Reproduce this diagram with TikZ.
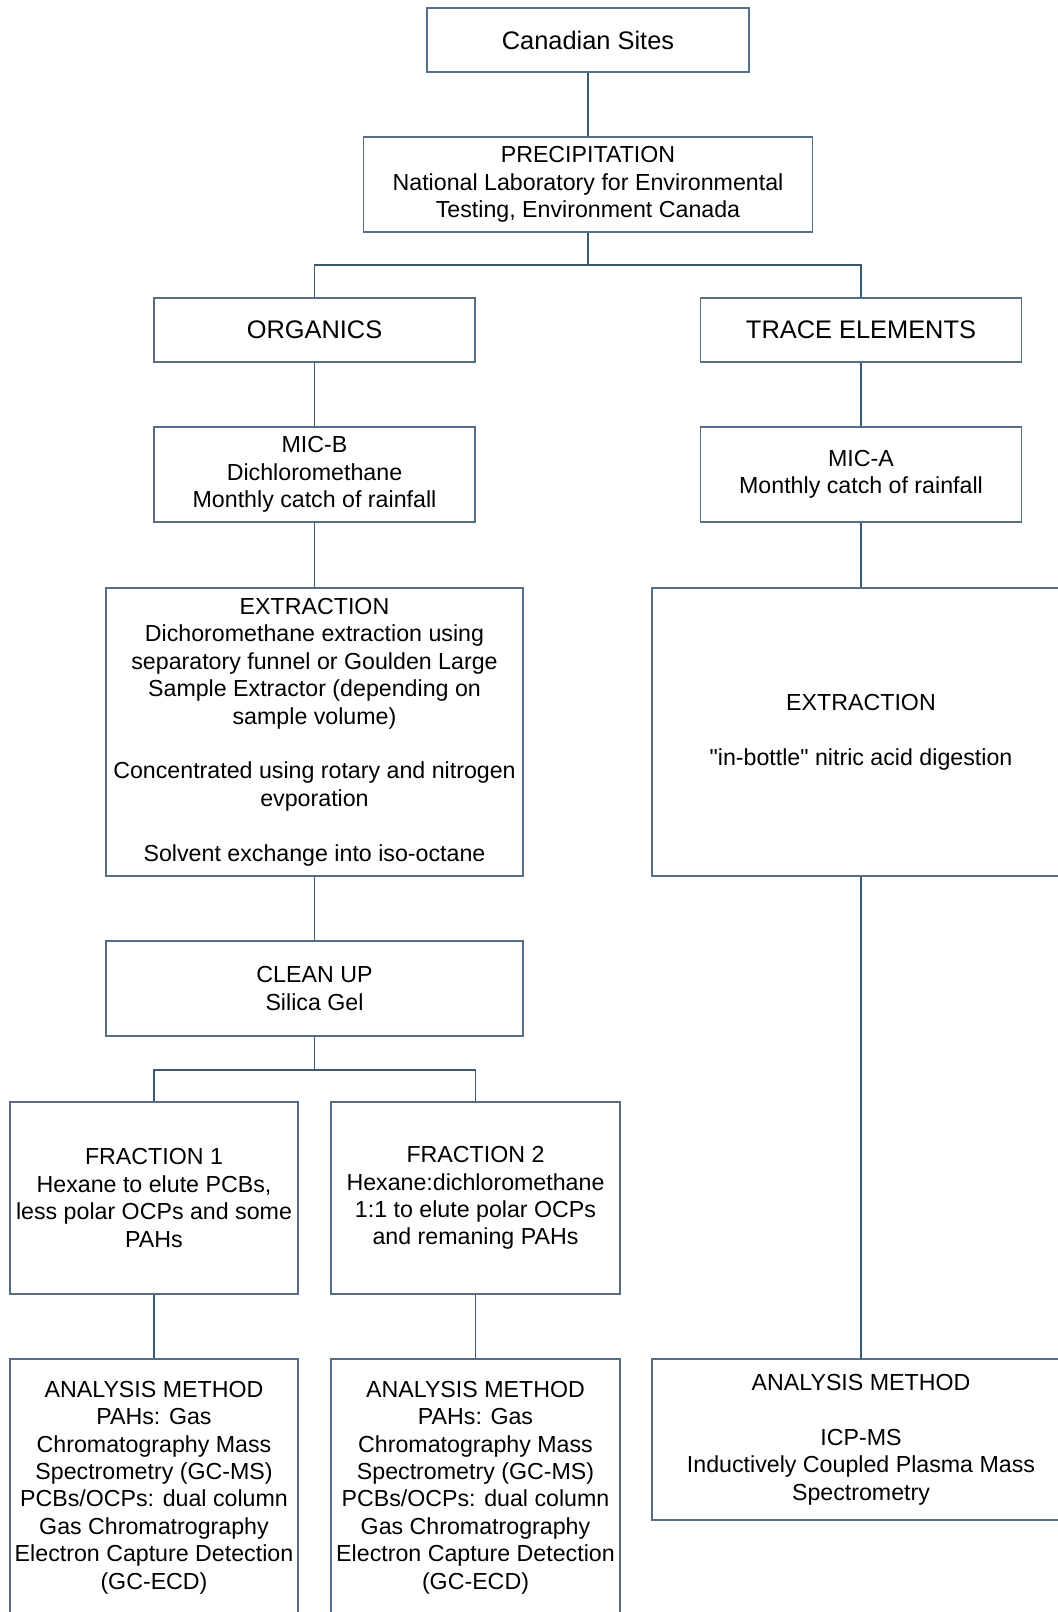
\documentclass[tikz,border=0pt]{standalone}
\usepackage{fontspec}
\setmainfont{Liberation Sans}[Ligatures=TeXOff]
\usetikzlibrary{calc}

\definecolor{boxline}{RGB}{84,108,132}
\definecolor{linkline}{RGB}{62,88,112}

\newcommand{\headfont}{\fontsize{12.7}{15}\selectfont}
\newcommand{\bodyfont}{\fontsize{11.6}{13.7}\selectfont}

\tikzset{
  box/.style={draw=boxline, line width=0.8pt, fill=white, align=center,
              inner sep=0pt, font=\bodyfont},
  headbox/.style={box, font=\headfont},
  link/.style={draw=linkline, line width=0.8pt}
}

\begin{document}
\begin{tikzpicture}[x=0.5pt, y=-0.5pt]

  \path[use as bounding box] (0,0) rectangle (1058,1612);
  \clip (0,0) rectangle (1058,1612);

  \coordinate (split1) at (588,265);
  \coordinate (split2) at (314.5,1070);

  % top of the tree
  \node[headbox, minimum width=161pt, minimum height=32pt] (sites) at (588,40) {Canadian Sites};
  \node[box, minimum width=224.5pt, minimum height=47.5pt] (precip) at (588,184.5)
       {PRECIPITATION\\National Laboratory for Environmental\\Testing, Environment Canada};

  % organics branch
  \node[headbox, minimum width=160.5pt, minimum height=32pt] (organics) at (314.5,330) {ORGANICS};
  \node[box, minimum width=160.5pt, minimum height=47.5pt] (micb) at (314.5,474.5)
       {MIC-B\\Dichloromethane\\Monthly catch of rainfall};
  \node[box, minimum width=208.5pt, minimum height=144pt] (extleft) at (314.5,732)
       {EXTRACTION\\Dichoromethane extraction using\\separatory funnel or Goulden Large\\Sample Extractor (depending on\\sample volume)\\[13.7pt]Concentrated using rotary and nitrogen\\evporation\\[13.7pt]Solvent exchange into iso-octane};
  \node[box, minimum width=208.5pt, minimum height=47.5pt] (cleanup) at (314.5,988.5)
       {CLEAN UP\\Silica Gel};
  \node[box, minimum width=144.25pt, minimum height=96pt] (frac1) at (154,1198)
       {FRACTION 1\\Hexane to elute PCBs,\\less polar OCPs and some\\PAHs};
  \node[box, minimum width=144.5pt, minimum height=96pt] (frac2) at (475.5,1198)
       {FRACTION 2\\Hexane:dichloromethane\\1:1 to elute polar OCPs\\and remaning PAHs};
  \node[box, minimum width=144.25pt, minimum height=128.5pt] (anleft) at (154,1487.5)
       {ANALYSIS METHOD\\PAHs: Gas\\Chromatography Mass\\Spectrometry (GC-MS)\\PCBs/OCPs: dual column\\Gas Chromatrography\\Electron Capture Detection\\(GC-ECD)};
  \node[box, minimum width=144.5pt, minimum height=128.5pt] (anmid) at (475.5,1487.5)
       {ANALYSIS METHOD\\PAHs: Gas\\Chromatography Mass\\Spectrometry (GC-MS)\\PCBs/OCPs: dual column\\Gas Chromatrography\\Electron Capture Detection\\(GC-ECD)};

  % trace elements branch
  \node[headbox, minimum width=160.5pt, minimum height=32pt] (trace) at (861,330) {TRACE ELEMENTS};
  \node[box, minimum width=160.5pt, minimum height=47.5pt] (mica) at (861,474.5)
       {MIC-A\\Monthly catch of rainfall};
  \node[box, minimum width=209pt, minimum height=144pt] (extright) at (861,732)
       {EXTRACTION\\[13.7pt]"in-bottle" nitric acid digestion};
  \node[box, minimum width=209pt, minimum height=80.5pt] (anright) at (861,1439.5)
       {ANALYSIS METHOD\\[13.7pt]ICP-MS\\Inductively Coupled Plasma Mass\\Spectrometry};

  % connectors
  \draw[link] (sites.south) -- (precip.north);
  \draw[link] (precip.south) -- (split1);
  \draw[link] (organics.north) |- (split1) -| (trace.north);
  \draw[link] (organics.south) -- (micb.north);
  \draw[link] (micb.south) -- (extleft.north);
  \draw[link] (extleft.south) -- (cleanup.north);
  \draw[link] (cleanup.south) -- (split2);
  \draw[link] (frac1.north) |- (split2) -| (frac2.north);
  \draw[link] (frac1.south) -- (anleft.north);
  \draw[link] (frac2.south) -- (anmid.north);
  \draw[link] (trace.south) -- (mica.north);
  \draw[link] (mica.south) -- (extright.north);
  \draw[link] (extright.south) -- (anright.north);

\end{tikzpicture}
\end{document}
